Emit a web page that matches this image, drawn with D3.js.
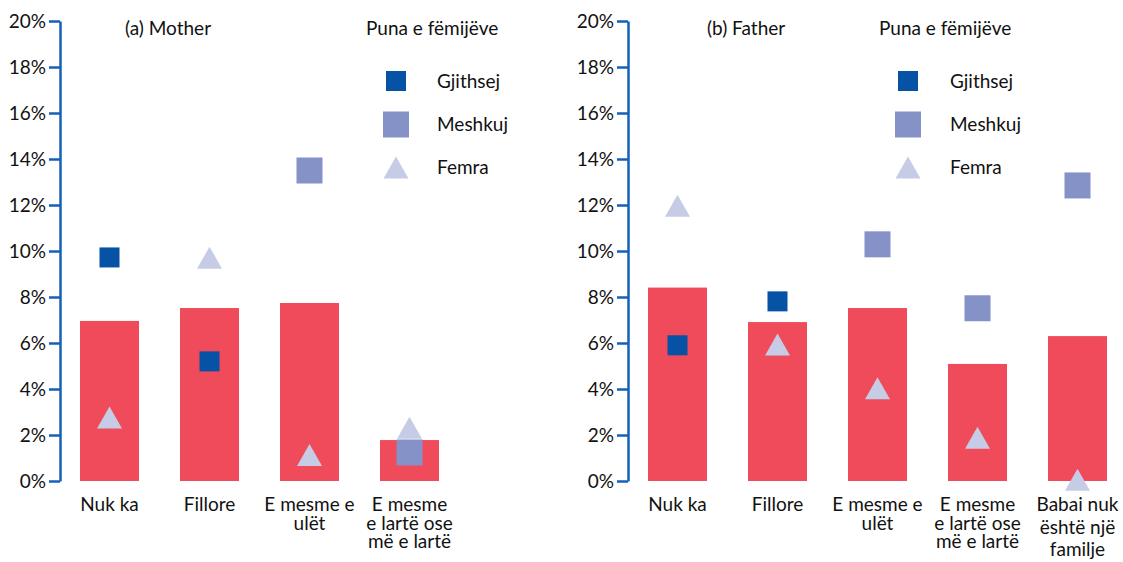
<!DOCTYPE html>
<html>
<head>
<meta charset="utf-8">
<script src="https://cdn.jsdelivr.net/npm/d3@7"></script>
<style>
  body { margin: 0; background: #fff; }
  svg { display: block; font-family: Lato, "Open Sans", sans-serif; }
</style>
</head>
<body>
<svg id="chart"></svg>
<script>
// values (percent)
const motherCategories = [["Nuk ka"], ["Fillore"], ["E mesme e", "ulët"], ["E mesme", "e lartë ose", "më e lartë"]]
const fatherCategories = [["Nuk ka"], ["Fillore"], ["E mesme e", "ulët"], ["E mesme", "e lartë ose", "më e lartë"], ["Babai nuk", "është një", "familje"]]

const motherBars = [6.96, 7.52, 7.74, 1.78]
const motherTotal = [9.72, 5.2, null, null]
const motherBoys = [null, null, 13.5, 1.24]
const motherGirls = [2.76, 9.71, 1.13, 2.32]

const fatherBars = [8.41, 6.91, 7.52, 5.09, 6.3]
const fatherTotal = [5.9, 7.81, null, null, null]
const fatherBoys = [null, null, 10.29, 7.51, 12.85]
const fatherGirls = [11.97, 5.93, 4.03, 1.88, 0.05]

const yTicks = [0, 2, 4, 6, 8, 10, 12, 14, 16, 18, 20]
const seriesNames = ["Gjithsej", "Meshkuj", "Femra"]
const legendTitle = "Puna e fëmijëve"

const W = 1123, H = 562
const FS = 19
const BAR = '#ef4b5a', AXIS = '#1560b8'
const C_TOTAL = '#0652a5', C_BOYS = '#8592c8', C_GIRLS = '#c6cbe6'

const svg = d3.select('#chart').attr('width', W).attr('height', H)

const y = d3.scaleLinear().domain([0, 20]).range([481, 21])

// panel layout (lineGap = spacing of the wrapped category labels)
const panels = [
  { title: '(a) Mother', cats: motherCategories, bars: motherBars, total: motherTotal, boys: motherBoys, girls: motherGirls,
    axisX: 60, titleX: 125, legTitleX: 366, legMarkX: 396, legTextX: 437, lineGap: [18.5, 18.5, 18.5, 18.5] },
  { title: '(b) Father', cats: fatherCategories, bars: fatherBars, total: fatherTotal, boys: fatherBoys, girls: fatherGirls,
    axisX: 628, titleX: 707, legTitleX: 879, legMarkX: 908, legTextX: 950, lineGap: [18.5, 18.5, 18.5, 18.5, 22.5] }
]

const tri = (cx, cy) => `M${cx},${cy - 11}L${cx + 12.5},${cy + 11}L${cx - 12.5},${cy + 11}Z`

panels.forEach(p => {
  const g = svg.append('g')
  const n = p.cats.length
  const x = d3.scaleBand()
    .domain(d3.range(n))
    .range([p.axisX, p.axisX + n * 100 - 1])
    .paddingInner(0.41)
    .paddingOuter(0.2)

  // bars
  g.selectAll('rect.bar')
    .data(p.bars)
    .enter().append('rect')
    .attr('class', 'bar')
    .attr('x', (d, i) => x(i))
    .attr('y', d => y(d))
    .attr('width', x.bandwidth())
    .attr('height', d => y(0) - y(d))
    .attr('fill', BAR)

  const cx = i => x(i) + x.bandwidth() / 2

  // girls triangles
  g.selectAll('path.girls')
    .data(p.girls.map((v, i) => ({ v, i })).filter(d => d.v != null))
    .enter().append('path')
    .attr('d', d => tri(cx(d.i), y(d.v)))
    .attr('fill', C_GIRLS)

  // boys squares
  g.selectAll('rect.boys')
    .data(p.boys.map((v, i) => ({ v, i })).filter(d => d.v != null))
    .enter().append('rect')
    .attr('x', d => cx(d.i) - 13)
    .attr('y', d => y(d.v) - 13)
    .attr('width', 26).attr('height', 26)
    .attr('fill', C_BOYS)

  // total squares
  g.selectAll('rect.total')
    .data(p.total.map((v, i) => ({ v, i })).filter(d => d.v != null))
    .enter().append('rect')
    .attr('x', d => cx(d.i) - 10)
    .attr('y', d => y(d.v) - 10)
    .attr('width', 20).attr('height', 20)
    .attr('fill', C_TOTAL)

  // y axis
  const yAxis = d3.axisLeft(y)
    .tickValues(yTicks)
    .tickFormat(d => d + '%')
    .tickSize(11)
    .tickSizeOuter(0)
    .tickPadding(3)
  const ax = g.append('g')
    .attr('transform', `translate(${p.axisX},0)`)
    .call(yAxis)
  ax.select('.domain').attr('stroke', AXIS).attr('stroke-width', 2.5)
  ax.selectAll('.tick line').attr('stroke', AXIS).attr('stroke-width', 2.5)
  ax.selectAll('.tick text').attr('fill', '#111').style('font-size', FS + 'px').style('font-family', 'Lato, sans-serif')

  // category labels
  p.cats.forEach((lines, i) => {
    const t = g.append('text')
      .attr('x', cx(i))
      .attr('y', 511)
      .attr('text-anchor', 'middle')
      .attr('font-size', FS)
      .attr('fill', '#111')
    lines.forEach((l, j) => {
      t.append('tspan').attr('x', cx(i)).attr('dy', j === 0 ? 0 : p.lineGap[i]).text(l)
    })
  })

  // title
  g.append('text').attr('x', p.titleX).attr('y', 35).attr('font-size', FS).attr('fill', '#111').text(p.title)

  // legend
  g.append('text').attr('x', p.legTitleX).attr('y', 35).attr('font-size', FS).attr('fill', '#111').text(legendTitle)
  const rows = [81, 124.5, 167.5]
  g.append('rect').attr('x', p.legMarkX - 10).attr('y', rows[0] - 10).attr('width', 20).attr('height', 20).attr('fill', C_TOTAL)
  g.append('rect').attr('x', p.legMarkX - 13).attr('y', rows[1] - 13).attr('width', 26).attr('height', 26).attr('fill', C_BOYS)
  g.append('path').attr('d', tri(p.legMarkX, rows[2])).attr('fill', C_GIRLS)
  seriesNames.forEach((s, i) => {
    g.append('text').attr('x', p.legTextX).attr('y', rows[i]).attr('dy', '0.35em')
      .attr('font-size', FS).attr('fill', '#111').text(s)
  })
})
</script>
</body>
</html>
